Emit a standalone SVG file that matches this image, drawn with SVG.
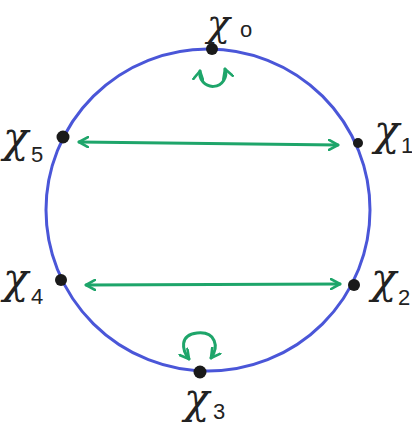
<svg xmlns="http://www.w3.org/2000/svg" width="412" height="428" viewBox="0 0 412 428">
<defs>
<style>
.lbl{font-family:"DejaVu Serif","Liberation Serif",serif;font-style:italic;font-size:42px;fill:#222}
.sub{font-family:"Liberation Sans",sans-serif;font-size:22px;fill:#222}
.g{fill:none;stroke:#1ea56a;stroke-width:3;stroke-linecap:round;stroke-linejoin:round}
.dot{fill:#1a1a1a}
</style>
<marker id="ah" viewBox="0 0 12 12" refX="10" refY="6" markerWidth="12" markerHeight="12" markerUnits="userSpaceOnUse" orient="auto-start-reverse">
<path d="M1,1 L10,6 L1,11" fill="none" stroke="#1ea56a" stroke-width="2.6" stroke-linecap="round" stroke-linejoin="round"/>
</marker>
</defs>
<rect width="412" height="428" fill="#fff"/>
<g id="circle">
<ellipse cx="208" cy="210" rx="162" ry="161" fill="none" stroke="#4a56d8" stroke-width="3"/>
</g>
<g id="connectors">
<line class="g" x1="79" y1="142" x2="338" y2="145" marker-start="url(#ah)" marker-end="url(#ah)"/>
<line class="g" x1="86" y1="285" x2="340" y2="284" marker-start="url(#ah)" marker-end="url(#ah)"/>
<path class="g" d="M200,71 A13,13 0 1 0 225,69" marker-start="url(#ah)" marker-end="url(#ah)"/>
<path class="g" d="M189,359 C182,350 179,335 197,333 C216,331 219,347 211,358" marker-start="url(#ah)" marker-end="url(#ah)"/>
</g>
<g id="x0"><circle class="dot" cx="212" cy="49" r="6"/><text class="lbl" x="207" y="36" style="font-size:38px">χ</text><text class="sub" x="240" y="37">o</text></g>
<g id="x1"><circle class="dot" cx="358" cy="143" r="5"/><text class="lbl" x="374" y="145">χ</text><text class="sub" x="401" y="153">1</text></g>
<g id="x2"><circle class="dot" cx="354" cy="285" r="6"/><text class="lbl" x="371" y="293">χ</text><text class="sub" x="398" y="305">2</text></g>
<g id="x3"><circle class="dot" cx="200" cy="372" r="6.5"/><text class="lbl" x="184" y="413">χ</text><text class="sub" x="213" y="419">3</text></g>
<g id="x4"><circle class="dot" cx="61" cy="280" r="6"/><text class="lbl" x="3" y="293">χ</text><text class="sub" x="31" y="304">4</text></g>
<g id="x5"><circle class="dot" cx="63" cy="137" r="6.5"/><text class="lbl" x="3" y="152">χ</text><text class="sub" x="31" y="162">5</text></g>
</svg>
